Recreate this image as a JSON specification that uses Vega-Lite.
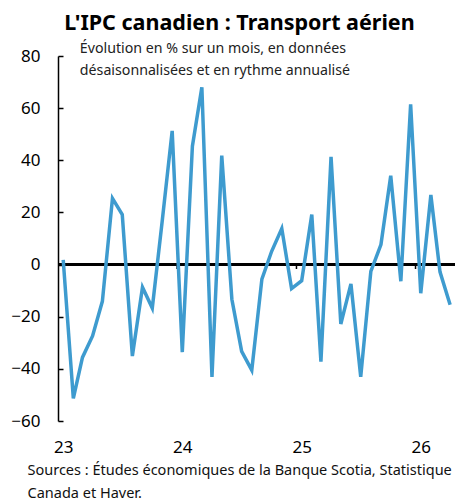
{
  "$schema": "https://vega.github.io/schema/vega-lite/v6.json",
  "width": 397,
  "height": 365,
  "autosize": {"type": "none"},
  "padding": {"left": 58, "top": 56, "right": 1, "bottom": 79},
  "background": "white",
  "config": {
    "font": "Noto Sans",
    "view": {"stroke": null}
  },
  "title": {
    "text": "L'IPC canadien : Transport aérien",
    "fontSize": 21.5,
    "fontWeight": "bold",
    "color": "#000000",
    "anchor": "middle",
    "frame": "group",
    "dx": -17,
    "offset": 7
  },
  "datasets": {
    "cpi": [
      {"date": "2023-01-01", "value": 1.8},
      {"date": "2023-02-01", "value": -51.3},
      {"date": "2023-03-01", "value": -35.6},
      {"date": "2023-04-01", "value": -27.4},
      {"date": "2023-05-01", "value": -14.1},
      {"date": "2023-06-01", "value": 25.4},
      {"date": "2023-07-01", "value": 19.2},
      {"date": "2023-08-01", "value": -35.1},
      {"date": "2023-09-01", "value": -8.7},
      {"date": "2023-10-01", "value": -16.7},
      {"date": "2023-11-01", "value": 17.3},
      {"date": "2023-12-01", "value": 51.3},
      {"date": "2024-01-01", "value": -33.6},
      {"date": "2024-02-01", "value": 45.4},
      {"date": "2024-03-01", "value": 68.0},
      {"date": "2024-04-01", "value": -43.1},
      {"date": "2024-05-01", "value": 41.8},
      {"date": "2024-06-01", "value": -13.3},
      {"date": "2024-07-01", "value": -33.3},
      {"date": "2024-08-01", "value": -40.5},
      {"date": "2024-09-01", "value": -5.6},
      {"date": "2024-10-01", "value": 5.1},
      {"date": "2024-11-01", "value": 13.8},
      {"date": "2024-12-01", "value": -9.2},
      {"date": "2025-01-01", "value": -6.2},
      {"date": "2025-02-01", "value": 19.2},
      {"date": "2025-03-01", "value": -37.2},
      {"date": "2025-04-01", "value": 41.3},
      {"date": "2025-05-01", "value": -22.8},
      {"date": "2025-06-01", "value": -7.4},
      {"date": "2025-07-01", "value": -43.1},
      {"date": "2025-08-01", "value": -2.6},
      {"date": "2025-09-01", "value": 7.7},
      {"date": "2025-10-01", "value": 34.1},
      {"date": "2025-11-01", "value": -6.4},
      {"date": "2025-12-01", "value": 61.5},
      {"date": "2026-01-01", "value": -11.0},
      {"date": "2026-02-01", "value": 26.7},
      {"date": "2026-03-01", "value": -2.8},
      {"date": "2026-04-01", "value": -15.4}
    ],
    "yearTicks": [
      {"date": "2023-12-16"},
      {"date": "2024-12-16"},
      {"date": "2025-12-16"}
    ]
  },
  "layer": [
    {
      "data": {"name": "cpi"},
      "mark": {"type": "rule", "color": "#000000", "strokeWidth": 1.5},
      "encoding": {"y": {"datum": 0, "type": "quantitative"}}
    },
    {
      "data": {"name": "yearTicks"},
      "mark": {"type": "rule", "color": "#000000", "strokeWidth": 1.5},
      "encoding": {
        "x": {"field": "date", "type": "temporal"},
        "y": {"datum": 0, "type": "quantitative"},
        "y2": {"datum": -1.7}
      }
    },
    {
      "data": {"name": "cpi"},
      "mark": {"type": "line", "color": "#3E9BCF", "strokeWidth": 3.5, "strokeJoin": "miter"},
      "encoding": {
        "x": {
          "field": "date",
          "type": "temporal",
          "scale": {
            "type": "utc",
            "domain": [
              {"year": 2022, "month": 12, "date": 16, "utc": true},
              {"year": 2026, "month": 4, "date": 16, "utc": true}
            ]
          },
          "axis": {
            "orient": "bottom",
            "values": [
              {"year": 2023, "month": 1, "date": 1, "utc": true},
              {"year": 2024, "month": 1, "date": 1, "utc": true},
              {"year": 2025, "month": 1, "date": 1, "utc": true},
              {"year": 2026, "month": 1, "date": 1, "utc": true}
            ],
            "format": "%y",
            "domain": false,
            "ticks": false,
            "grid": false,
            "labelFontSize": 17,
            "labelColor": "#000000",
            "labelPadding": 18,
            "labelFlush": false,
            "title": ["Sources : Études économiques de la Banque Scotia, Statistique", "Canada et Haver."],
            "titleFontSize": 14.5,
            "titleFontWeight": "normal",
            "titleColor": "#111111",
            "titleAlign": "left",
            "titleAnchor": "start",
            "titleBaseline": "alphabetic",
            "titleX": -31,
            "titleY": 53,
            "titleLineHeight": 23
          }
        },
        "y": {
          "field": "value",
          "type": "quantitative",
          "scale": {"domain": [-60, 80], "nice": false, "zero": false},
          "axis": {
            "values": [-60, -40, -20, 0, 20, 40, 60, 80],
            "grid": false,
            "domain": true,
            "domainColor": "#000000",
            "domainWidth": 1.5,
            "ticks": true,
            "tickColor": "#000000",
            "tickWidth": 1.5,
            "tickSize": -5,
            "labelFontSize": 17,
            "labelColor": "#000000",
            "labelPadding": 23,
            "title": null
          }
        }
      }
    },
    {
      "data": {"values": [{"note": "Évolution en % sur un mois, en données|désaisonnalisées et en rythme annualisé"}]},
      "mark": {
        "type": "text",
        "align": "left",
        "baseline": "alphabetic",
        "fontSize": 14.2,
        "color": "#222222",
        "lineBreak": "|",
        "lineHeight": 22
      },
      "encoding": {
        "text": {"field": "note"},
        "x": {"datum": {"year": 2023, "month": 2, "date": 21, "utc": true}, "type": "temporal"},
        "y": {"datum": 81.2, "type": "quantitative"}
      }
    }
  ]
}
